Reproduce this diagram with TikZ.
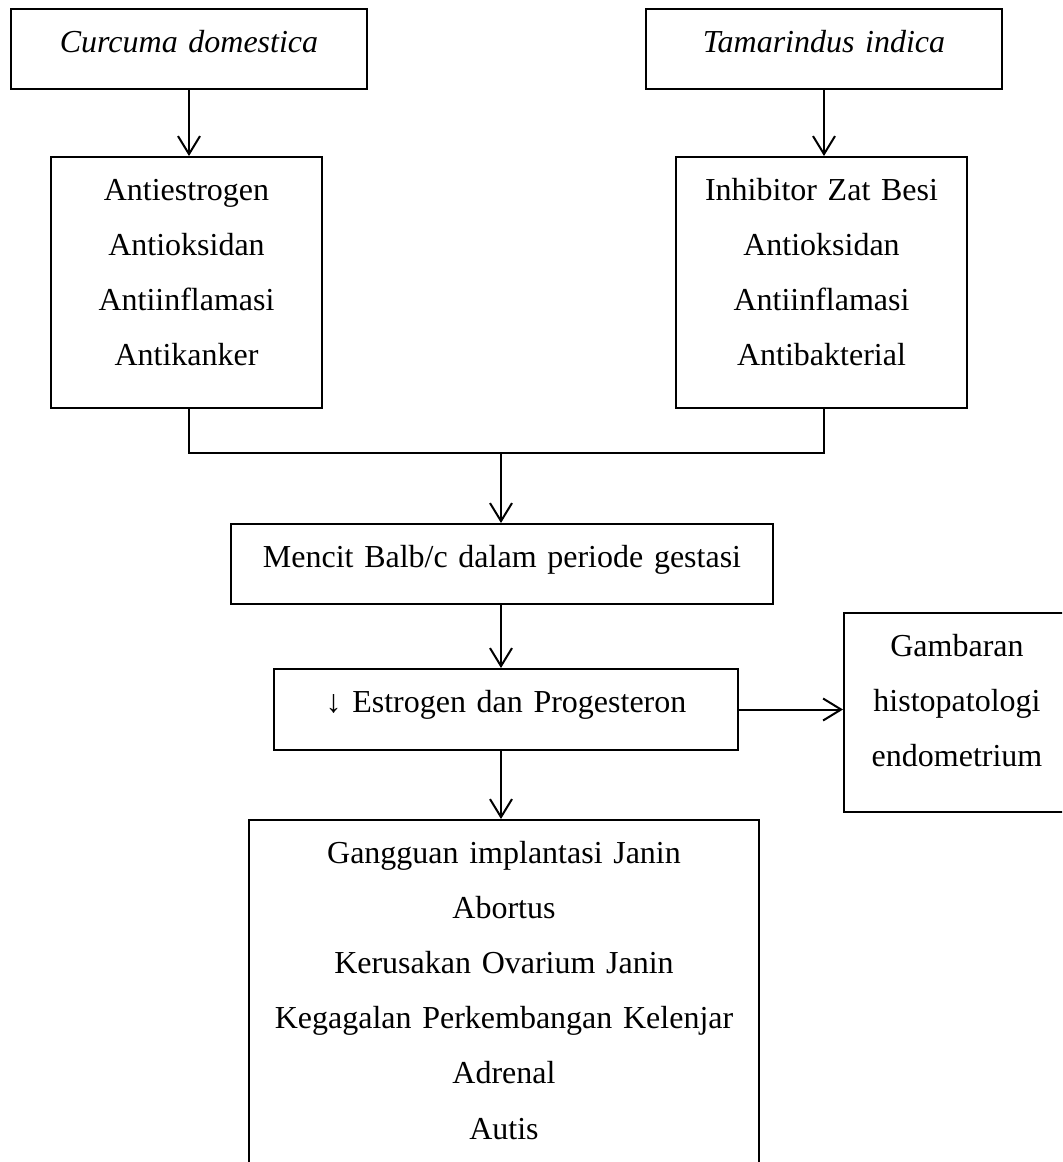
\documentclass[tikz,border=0pt]{standalone}
\usepackage{fontspec}
\setmainfont{Liberation Serif}
\usetikzlibrary{arrows.meta}
\tikzset{
        flow box/.style={
          draw, line width=1pt,
          anchor=north west, inner sep=0pt,
          align=center, text height=21.5pt, % first baseline sits 21.5pt below the top edge
          font=\fontsize{16pt}{27.6pt}\selectfont
          },
        flow arrow/.style={-{Straight Barb[length=9pt,width=11pt]}, line width=1pt},
        flow line/.style={line width=1pt},
}
\begin{document}
\begin{tikzpicture}[x=0.5pt, y=-0.5pt]
      \useasboundingbox (0,0) rectangle (1062,1162);
      \clip (0,0) rectangle (1062,1162);
      % PLANT EXTRACTS
      \node[flow box, text width=178pt, text depth=18.5pt] (cur) at (10,8) {\textit{Curcuma domestica}};
      \node[flow box, text width=178pt, text depth=18.5pt] (tam) at (645,8) {\textit{Tamarindus indica}};

      % EFFECTS OF EACH EXTRACT
      \node[flow box, text width=135.5pt, text depth=104pt] (cureff) at (50,156) {Antiestrogen\\Antioksidan\\Antiinflamasi\\Antikanker};
      \node[flow box, text width=145.5pt, text depth=104pt] (tameff) at (675,156) {Inhibitor Zat Besi\\Antioksidan\\Antiinflamasi\\Antibakterial};

      % MICE AND HORMONES
      \node[flow box, text width=271pt, text depth=18.5pt] (mencit) at (230,523) {Mencit Balb/c dalam periode gestasi};
      \node[flow box, text width=232pt, text depth=19pt] (estro) at (273,668) {↓ Estrogen dan Progesteron};
      \node[flow box, text width=113pt, text depth=78pt] (gamb) at (843,612) {Gambaran\\histopatologi\\endometrium};

      % OUTCOMES
      \node[flow box, text width=255pt, text depth=168.5pt] (outcome) at (248,819) {Gangguan implantasi Janin\\Abortus\\Kerusakan Ovarium Janin\\Kegagalan Perkembangan Kelenjar\\Adrenal\\Autis};

      % WIRING
      \draw[flow arrow] (cur.south) -- (cur.south |- cureff.north);
      \draw[flow arrow] (tam.south) -- (tam.south |- tameff.north);
      % both effect boxes join above the mice
      \coordinate (join) at (501,453);
      \draw[flow line] (cur.south |- cureff.south) |- (join) -| (tam.south |- tameff.south);
      \draw[flow arrow] (join) -- (join |- mencit.north);
      \draw[flow arrow] (join |- mencit.south) -- (join |- estro.north);
      \draw[flow arrow] (estro.east) -- (estro.east -| gamb.west);
      \draw[flow arrow] (join |- estro.south) -- (join |- outcome.north);
\end{tikzpicture}
\end{document}
